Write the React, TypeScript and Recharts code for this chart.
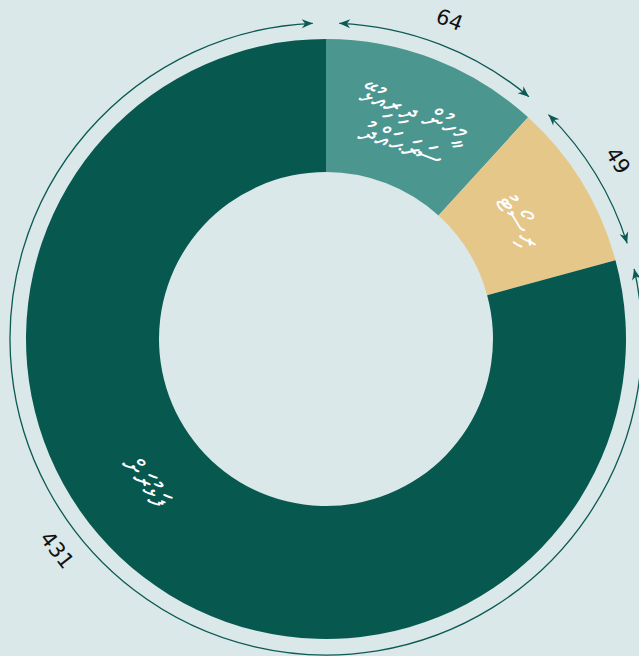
import { PieChart, Pie, Cell } from "recharts";

// slice labels (Dhivehi), counts and colours, clockwise from 12 o'clock
const categories = ["މީހުން ދިރިއުޅޭ\nސަރަޙައްދު", "ރިސޯޓު", "ފަޅުރަށް"];
const counts = [64, 49, 431];
const sliceColors = ["#4b968f", "#e5c78a", "#07584f"];

const data = categories.map((name, i) => ({ name, value: counts[i] }));

const W = 639;
const H = 656;
const CX = 326;
const CY = 339;
const INNER_R = 167;
const OUTER_R = 300;
const ARC_R = 316;
const ARC_GAP = 2.4; // degrees left free at each end of an outer arc
const LABEL_R = 228;
const VALUE_R = 342;
const BIG_SHIFT = -14.5; // the big slice's labels sit a bit further round
const ARC_COLOR = "#0b5a53";
const RAD = Math.PI / 180;

function polar(a: number, r: number): [number, number] {
  return [CX + r * Math.cos(a * RAD), CY - r * Math.sin(a * RAD)];
}

// keep text upright-ish: tangential rotation, flipped on the lower half
function textRotation(a: number) {
  let t = (((90 - a) % 360) + 360) % 360;
  if (t > 90 && t < 270) t -= 180;
  return t;
}

function labelAngle(midAngle: number, index: number) {
  return midAngle + (index === 2 ? BIG_SHIFT : 0);
}

function renderInnerLabel(props: any) {
  const { midAngle, index, name } = props;
  const a = labelAngle(midAngle, index);
  const [x, y] = polar(a, LABEL_R);
  const lines = String(name).split("\n");
  const lh = 35;
  return (
    <g transform={`translate(${x},${y}) rotate(${textRotation(a)})`}>
      <text
        textAnchor="middle"
        dominantBaseline="central"
        direction="rtl"
        fill="#ffffff"
        fontSize={29}
        fontFamily="'Noto Sans', 'DejaVu Sans', sans-serif"
      >
        {lines.map((l, i) => (
          <tspan key={i} x={0} dy={i === 0 ? -((lines.length - 1) * lh) / 2 : lh}>
            {l}
          </tspan>
        ))}
      </text>
    </g>
  );
}

function arrowHead(tip: [number, number], dir: [number, number]) {
  const L = 11;
  const Wd = 4.5;
  const [tx, ty] = tip;
  const [dx, dy] = dir;
  const nx = -dy;
  const ny = dx;
  const pts = [
    [tx, ty],
    [tx - L * dx + Wd * nx, ty - L * dy + Wd * ny],
    [tx - 0.7 * L * dx, ty - 0.7 * L * dy],
    [tx - L * dx - Wd * nx, ty - L * dy - Wd * ny],
  ];
  return pts.map((p) => p.join(",")).join(" ");
}

function renderArcLabel(props: any) {
  const { startAngle, endAngle, midAngle, index, value } = props;
  const a1 = startAngle - ARC_GAP;
  const a2 = endAngle + ARC_GAP;
  const p1 = polar(a1, ARC_R);
  const p2 = polar(a2, ARC_R);
  const large = a1 - a2 > 180 ? 1 : 0;
  const d = `M${p1[0]},${p1[1]} A${ARC_R},${ARC_R} 0 ${large} 1 ${p2[0]},${p2[1]}`;
  // clockwise tangent at angle a is (sin a, cos a) in screen space
  const tEnd: [number, number] = [Math.sin(a2 * RAD), Math.cos(a2 * RAD)];
  const tStart: [number, number] = [-Math.sin(a1 * RAD), -Math.cos(a1 * RAD)];
  const a = labelAngle(midAngle, index);
  const [vx, vy] = polar(a, VALUE_R);
  return (
    <g>
      <path d={d} fill="none" stroke={ARC_COLOR} strokeWidth={1.3} />
      <polygon points={arrowHead(p2, tEnd)} fill={ARC_COLOR} />
      <polygon points={arrowHead(p1, tStart)} fill={ARC_COLOR} />
      <text
        transform={`translate(${vx},${vy}) rotate(${textRotation(a)})`}
        textAnchor="middle"
        dominantBaseline="central"
        fill="#111111"
        fontSize={21}
        fontFamily="'DejaVu Sans', sans-serif"
      >
        {value}
      </text>
    </g>
  );
}

export default function App() {
  return (
    <div
      style={{
        position: "fixed",
        left: 0,
        top: 0,
        width: W,
        height: H,
        background: "#dbe8e9",
      }}
    >
      <PieChart width={W} height={H} margin={{ top: 0, right: 0, bottom: 0, left: 0 }}>
        <Pie
          data={data}
          dataKey="value"
          nameKey="name"
          cx={CX}
          cy={CY}
          innerRadius={INNER_R}
          outerRadius={OUTER_R}
          startAngle={90}
          endAngle={-270}
          stroke="none"
          label={renderInnerLabel}
          labelLine={false}
          isAnimationActive={false}
        >
          {data.map((d, i) => (
            <Cell key={d.name} fill={sliceColors[i]} />
          ))}
        </Pie>
        <Pie
          data={data}
          dataKey="value"
          nameKey="name"
          cx={CX}
          cy={CY}
          innerRadius={ARC_R}
          outerRadius={ARC_R}
          startAngle={90}
          endAngle={-270}
          fill="none"
          stroke="none"
          label={renderArcLabel}
          labelLine={false}
          isAnimationActive={false}
        />
      </PieChart>
    </div>
  );
}
